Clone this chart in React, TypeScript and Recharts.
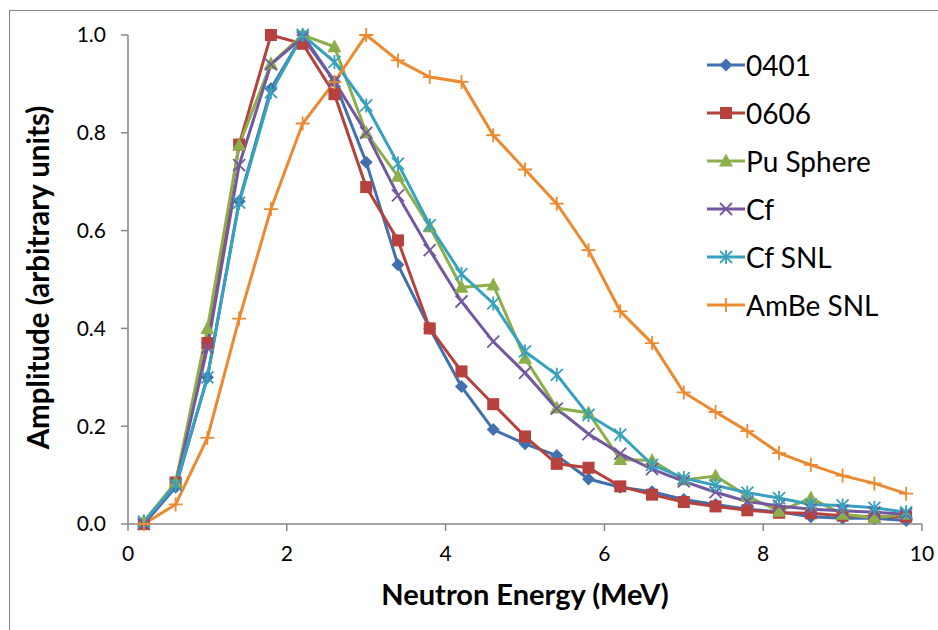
import { LineChart, Line, XAxis, YAxis, Legend, Label } from 'recharts'

const energies = [0.2, 0.6, 1.0, 1.4, 1.8, 2.2, 2.6, 3.0, 3.4, 3.8, 4.2, 4.6, 5.0, 5.4, 5.8, 6.2, 6.6, 7.0, 7.4, 7.8, 8.2, 8.6, 9.0, 9.4, 9.8]

const s0401 = [0.0, 0.075, 0.3, 0.66, 0.89, 1.0, 0.905, 0.74, 0.53, 0.4, 0.281, 0.193, 0.164, 0.14, 0.092, 0.075, 0.066, 0.05, 0.04, 0.03, 0.025, 0.015, 0.012, 0.012, 0.007]
const s0606 = [0.0, 0.085, 0.37, 0.776, 1.0, 0.982, 0.879, 0.689, 0.58, 0.4, 0.312, 0.245, 0.179, 0.123, 0.115, 0.077, 0.06, 0.045, 0.036, 0.028, 0.023, 0.022, 0.017, 0.015, 0.015]
const puSphere = [0.005, 0.085, 0.4, 0.775, 0.941, 1.0, 0.976, 0.8, 0.711, 0.608, 0.484, 0.489, 0.339, 0.237, 0.227, 0.132, 0.13, 0.09, 0.098, 0.057, 0.026, 0.053, 0.02, 0.013, 0.02]
const cf = [0.0, 0.08, 0.36, 0.734, 0.94, 0.995, 0.905, 0.8, 0.672, 0.56, 0.455, 0.373, 0.309, 0.236, 0.184, 0.144, 0.112, 0.087, 0.065, 0.046, 0.037, 0.03, 0.027, 0.024, 0.02]
const cfSnl = [0.005, 0.08, 0.3, 0.657, 0.883, 1.0, 0.945, 0.856, 0.737, 0.611, 0.511, 0.451, 0.353, 0.305, 0.223, 0.183, 0.121, 0.094, 0.079, 0.064, 0.053, 0.04, 0.038, 0.033, 0.024]
const ambeSnl = [0.0, 0.04, 0.176, 0.42, 0.644, 0.819, 0.904, 1.0, 0.948, 0.914, 0.904, 0.795, 0.725, 0.655, 0.56, 0.435, 0.37, 0.269, 0.229, 0.19, 0.145, 0.121, 0.099, 0.083, 0.062]

const xTicks = [0, 2, 4, 6, 8, 10]
const yTicks = [0, 0.2, 0.4, 0.6, 0.8, 1.0]

type Shape = 'diamond' | 'square' | 'triangle' | 'x' | 'star' | 'plus'

const series: { key: string; name: string; color: string; shape: Shape; values: number[] }[] = [
  { key: 's0401', name: '0401', color: '#4170AE', shape: 'diamond', values: s0401 },
  { key: 's0606', name: '0606', color: '#B6413D', shape: 'square', values: s0606 },
  { key: 'pu', name: 'Pu Sphere', color: '#8DAF4B', shape: 'triangle', values: puSphere },
  { key: 'cf', name: 'Cf', color: '#7358A0', shape: 'x', values: cf },
  { key: 'cfsnl', name: 'Cf SNL', color: '#36A2BE', shape: 'star', values: cfSnl },
  { key: 'ambe', name: 'AmBe SNL', color: '#EC8A31', shape: 'plus', values: ambeSnl },
]

const data = energies.map((energy, i) => {
  const row: Record<string, number> = { energy }
  series.forEach((s) => {
    row[s.key] = s.values[i]
  })
  return row
})

const AXIS = '#868686'
const FONT = 'Lato, "Open Sans", sans-serif'

function Marker({ shape, cx, cy, color }: { shape: Shape; cx: number; cy: number; color: string }) {
  switch (shape) {
    case 'diamond':
      return <polygon points={`${cx},${cy - 6.5} ${cx + 6.5},${cy} ${cx},${cy + 6.5} ${cx - 6.5},${cy}`} fill={color} />
    case 'square':
      return <rect x={cx - 6} y={cy - 6} width={12} height={12} fill={color} />
    case 'triangle':
      return <polygon points={`${cx},${cy - 7.5} ${cx + 7},${cy + 5.5} ${cx - 7},${cy + 5.5}`} fill={color} />
    case 'x':
      return (
        <path
          d={`M${cx - 6},${cy - 6}L${cx + 6},${cy + 6}M${cx - 6},${cy + 6}L${cx + 6},${cy - 6}`}
          stroke={color}
          strokeWidth={1.8}
          fill="none"
        />
      )
    case 'star':
      return (
        <path
          d={`M${cx - 6},${cy - 6}L${cx + 6},${cy + 6}M${cx - 6},${cy + 6}L${cx + 6},${cy - 6}M${cx},${cy - 7}L${cx},${cy + 7}`}
          stroke={color}
          strokeWidth={1.8}
          fill="none"
        />
      )
    default:
      return (
        <path
          d={`M${cx - 7},${cy}L${cx + 7},${cy}M${cx},${cy - 7}L${cx},${cy + 7}`}
          stroke={color}
          strokeWidth={1.8}
          fill="none"
        />
      )
  }
}

function LegendBox() {
  return (
    <div style={{ fontFamily: FONT, fontSize: 28, color: '#000' }}>
      {series.map((s) => (
        <div key={s.key} style={{ display: 'flex', alignItems: 'center', height: 48 }}>
          <svg width={38} height={20} style={{ display: 'block' }}>
            <line x1={0} y1={10} x2={38} y2={10} stroke={s.color} strokeWidth={3} />
            <Marker shape={s.shape} cx={19} cy={10} color={s.color} />
          </svg>
          <span style={{ marginLeft: 1, lineHeight: '48px', whiteSpace: 'nowrap' }}>{s.name}</span>
        </div>
      ))}
    </div>
  )
}

function YTitle(props: { viewBox?: { x?: number; y?: number; width?: number; height?: number } }) {
  const vb = props.viewBox || {}
  const x = (vb.x ?? 0) + 49
  const y = (vb.y ?? 35) + (vb.height ?? 489) / 2 - 2
  return (
    <text
      x={x}
      y={y}
      transform={`rotate(-90, ${x}, ${y})`}
      textAnchor="middle"
      fontFamily={FONT}
      fontWeight={700}
      fontSize={29.5}
      fill="#000"
    >
      Amplitude (arbitrary units)
    </text>
  )
}

export default function App() {
  return (
    <div style={{ position: 'absolute', left: 0, top: 0, width: 938, height: 630, overflow: 'hidden', background: '#fff' }}>
      <div
        style={{
          position: 'absolute',
          left: 9,
          top: 10,
          width: 1000,
          height: 1000,
          border: `1px solid ${AXIS}`,
        }}
      />
      <LineChart
        width={938}
        height={630}
        data={data}
        margin={{ top: 35, right: 16, left: 0, bottom: 0 }}
        style={{ position: 'absolute', left: 0, top: 0 }}
      >
        <XAxis
          dataKey="energy"
          type="number"
          domain={[0, 10]}
          ticks={xTicks}
          allowDataOverflow
          height={106}
          axisLine={{ stroke: AXIS, strokeWidth: 1.5 }}
          tickLine={{ stroke: AXIS, strokeWidth: 1.5 }}
          tickSize={7}
          tickMargin={15}
          tick={{ fontSize: 21, fontFamily: FONT, fill: '#000' }}
        >
          <Label
            value="Neutron Energy (MeV)"
            position="insideBottom"
            offset={25}
            style={{ fontFamily: FONT, fontWeight: 700, fontSize: 29, fill: '#000' }}
          />
        </XAxis>
        <YAxis
          type="number"
          domain={[0, 1]}
          ticks={yTicks}
          width={128}
          axisLine={{ stroke: AXIS, strokeWidth: 1.5 }}
          tickLine={{ stroke: AXIS, strokeWidth: 1.5 }}
          tickSize={7}
          tickMargin={15}
          tickFormatter={(v: number) => v.toFixed(1)}
          tick={{ fontSize: 21, fontFamily: FONT, fill: '#000' }}
        >
          <Label content={YTitle} />
        </YAxis>
        <Legend
          layout="vertical"
          align="center"
          verticalAlign="middle"
          wrapperStyle={{ left: 707, top: 41, width: 220, height: 300 }}
          content={() => <LegendBox />}
        />
        {series.map((s) => (
          <Line
            key={s.key}
            dataKey={s.key}
            name={s.name}
            type="linear"
            stroke={s.color}
            strokeWidth={3}
            isAnimationActive={false}
            dot={(p: { cx?: number; cy?: number; index?: number }) => (
              <Marker key={`${s.key}-${p.index}`} shape={s.shape} cx={p.cx ?? 0} cy={p.cy ?? 0} color={s.color} />
            )}
            activeDot={false}
          />
        ))}
      </LineChart>
    </div>
  )
}
